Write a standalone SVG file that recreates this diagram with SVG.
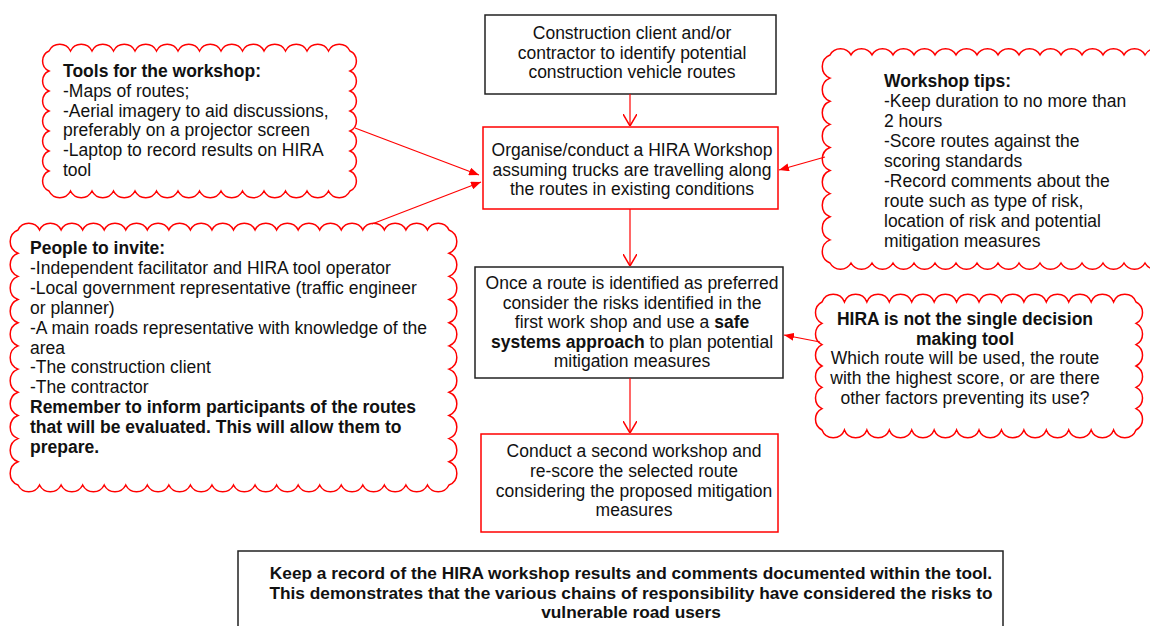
<svg xmlns="http://www.w3.org/2000/svg" width="1150" height="626" viewBox="0 0 1150 626">
<style>
.t{font-family:"Liberation Sans",Arial,Helvetica,sans-serif;font-size:17.5px;fill:#111}
.b{font-weight:bold}
.c{text-anchor:middle}
.kbox{fill:#fff;stroke:#222;stroke-width:1.5}
.rbox{fill:#fff;stroke:#f00;stroke-width:1.5}
.cloud{fill:#fff;stroke:#f00;stroke-width:1.5;stroke-linejoin:miter}
.conn{stroke:#f00;stroke-width:1.2;fill:none}
</style>
<defs>
<marker id="open" viewBox="0 0 12 14" refX="12" refY="7" markerWidth="12" markerHeight="14" markerUnits="userSpaceOnUse" orient="auto">
<path d="M0,0 L12,7 L0,14" fill="none" stroke="#f00" stroke-width="1.5"/>
</marker>
<marker id="fill" viewBox="0 0 10 8" refX="10" refY="4" markerWidth="10" markerHeight="8" markerUnits="userSpaceOnUse" orient="auto">
<path d="M0,0 L10,4 L0,8 z" fill="#f00"/>
</marker>
</defs>
<rect width="1150" height="626" fill="#fff"/>

<g id="tools-cloud">
<path class="cloud" d="M49,51 a12,12 0 0 1 21.5,0 a12,12 0 0 1 21.5,0 a12,12 0 0 1 21.5,0 a12,12 0 0 1 21.5,0 a12,12 0 0 1 21.5,0 a12,12 0 0 1 21.5,0 a12,12 0 0 1 21.5,0 a12,12 0 0 1 21.5,0 a12,12 0 0 1 21.5,0 a12,12 0 0 1 21.5,0 a12,12 0 0 1 21.5,0 a12,12 0 0 1 21.5,0 a12,12 0 0 1 21.5,0 a12,12 0 0 1 21.5,0 a11,11 0 0 1 0,20 a11,11 0 0 1 0,20 a11,11 0 0 1 0,20 a11,11 0 0 1 0,20 a11,11 0 0 1 0,20 a11,11 0 0 1 0,20 a11,11 0 0 1 0,20 a12,12 0 0 1 -21.5,0 a12,12 0 0 1 -21.5,0 a12,12 0 0 1 -21.5,0 a12,12 0 0 1 -21.5,0 a12,12 0 0 1 -21.5,0 a12,12 0 0 1 -21.5,0 a12,12 0 0 1 -21.5,0 a12,12 0 0 1 -21.5,0 a12,12 0 0 1 -21.5,0 a12,12 0 0 1 -21.5,0 a12,12 0 0 1 -21.5,0 a12,12 0 0 1 -21.5,0 a12,12 0 0 1 -21.5,0 a12,12 0 0 1 -21.5,0 a11,11 0 0 1 0,-20 a11,11 0 0 1 0,-20 a11,11 0 0 1 0,-20 a11,11 0 0 1 0,-20 a11,11 0 0 1 0,-20 a11,11 0 0 1 0,-20 a11,11 0 0 1 0,-20 z"/>
<text class="t" x="63" y="77"><tspan class="b">Tools for the workshop:</tspan><tspan x="63" dy="19.8">-Maps of routes;</tspan><tspan x="63" dy="19.8">-Aerial imagery to aid discussions,</tspan><tspan x="63" dy="19.8">preferably on a projector screen</tspan><tspan x="63" dy="19.8">-Laptop to record results on HIRA</tspan><tspan x="63" dy="19.8">tool</tspan></text>
</g>

<g id="people-cloud">
<path class="cloud" d="M18,230 a12,12 0 0 1 21.55,0 a12,12 0 0 1 21.55,0 a12,12 0 0 1 21.55,0 a12,12 0 0 1 21.55,0 a12,12 0 0 1 21.55,0 a12,12 0 0 1 21.55,0 a12,12 0 0 1 21.55,0 a12,12 0 0 1 21.55,0 a12,12 0 0 1 21.55,0 a12,12 0 0 1 21.55,0 a12,12 0 0 1 21.55,0 a12,12 0 0 1 21.55,0 a12,12 0 0 1 21.55,0 a12,12 0 0 1 21.55,0 a12,12 0 0 1 21.55,0 a12,12 0 0 1 21.55,0 a12,12 0 0 1 21.55,0 a12,12 0 0 1 21.55,0 a12,12 0 0 1 21.55,0 a12,12 0 0 1 21.55,0 a12.5,12.5 0 0 1 0,23.18 a12.5,12.5 0 0 1 0,23.18 a12.5,12.5 0 0 1 0,23.18 a12.5,12.5 0 0 1 0,23.18 a12.5,12.5 0 0 1 0,23.18 a12.5,12.5 0 0 1 0,23.18 a12.5,12.5 0 0 1 0,23.18 a12.5,12.5 0 0 1 0,23.18 a12.5,12.5 0 0 1 0,23.18 a12.5,12.5 0 0 1 0,23.18 a12.5,12.5 0 0 1 0,23.18 a12,12 0 0 1 -21.55,0 a12,12 0 0 1 -21.55,0 a12,12 0 0 1 -21.55,0 a12,12 0 0 1 -21.55,0 a12,12 0 0 1 -21.55,0 a12,12 0 0 1 -21.55,0 a12,12 0 0 1 -21.55,0 a12,12 0 0 1 -21.55,0 a12,12 0 0 1 -21.55,0 a12,12 0 0 1 -21.55,0 a12,12 0 0 1 -21.55,0 a12,12 0 0 1 -21.55,0 a12,12 0 0 1 -21.55,0 a12,12 0 0 1 -21.55,0 a12,12 0 0 1 -21.55,0 a12,12 0 0 1 -21.55,0 a12,12 0 0 1 -21.55,0 a12,12 0 0 1 -21.55,0 a12,12 0 0 1 -21.55,0 a12,12 0 0 1 -21.55,0 a12.5,12.5 0 0 1 0,-23.18 a12.5,12.5 0 0 1 0,-23.18 a12.5,12.5 0 0 1 0,-23.18 a12.5,12.5 0 0 1 0,-23.18 a12.5,12.5 0 0 1 0,-23.18 a12.5,12.5 0 0 1 0,-23.18 a12.5,12.5 0 0 1 0,-23.18 a12.5,12.5 0 0 1 0,-23.18 a12.5,12.5 0 0 1 0,-23.18 a12.5,12.5 0 0 1 0,-23.18 a12.5,12.5 0 0 1 0,-23.18 z"/>
<text class="t" x="30" y="254"><tspan class="b">People to invite:</tspan><tspan x="30" dy="19.9">-Independent facilitator and HIRA tool operator</tspan><tspan x="30" dy="19.9">-Local government representative (traffic engineer</tspan><tspan x="30" dy="19.9">or planner)</tspan><tspan x="30" dy="19.9">-A main roads representative with knowledge of the</tspan><tspan x="30" dy="19.9">area</tspan><tspan x="30" dy="19.9">-The construction client</tspan><tspan x="30" dy="19.9">-The contractor</tspan><tspan x="30" dy="19.9" class="b">Remember to inform participants of the routes</tspan><tspan x="30" dy="19.9" class="b">that will be evaluated. This will allow them to</tspan><tspan x="30" dy="19.9" class="b">prepare.</tspan></text>
</g>

<g id="tips-cloud">
<path class="cloud" d="M830,55 a12,12 0 0 1 21,0 a12,12 0 0 1 21,0 a12,12 0 0 1 21,0 a12,12 0 0 1 21,0 a12,12 0 0 1 21,0 a12,12 0 0 1 21,0 a12,12 0 0 1 21,0 a12,12 0 0 1 21,0 a12,12 0 0 1 21,0 a12,12 0 0 1 21,0 a12,12 0 0 1 21,0 a12,12 0 0 1 21,0 a12,12 0 0 1 21,0 a12,12 0 0 1 21,0 a12,12 0 0 1 21,0 a12,12 0 0 1 21,0 a12,12 0 0 1 21,0 L1190,55 L1190,263 L1187,263 a12,12 0 0 1 -21,0 a12,12 0 0 1 -21,0 a12,12 0 0 1 -21,0 a12,12 0 0 1 -21,0 a12,12 0 0 1 -21,0 a12,12 0 0 1 -21,0 a12,12 0 0 1 -21,0 a12,12 0 0 1 -21,0 a12,12 0 0 1 -21,0 a12,12 0 0 1 -21,0 a12,12 0 0 1 -21,0 a12,12 0 0 1 -21,0 a12,12 0 0 1 -21,0 a12,12 0 0 1 -21,0 a12,12 0 0 1 -21,0 a12,12 0 0 1 -21,0 a12,12 0 0 1 -21,0 a12.5,12.5 0 0 1 0,-23.11 a12.5,12.5 0 0 1 0,-23.11 a12.5,12.5 0 0 1 0,-23.11 a12.5,12.5 0 0 1 0,-23.11 a12.5,12.5 0 0 1 0,-23.11 a12.5,12.5 0 0 1 0,-23.11 a12.5,12.5 0 0 1 0,-23.11 a12.5,12.5 0 0 1 0,-23.11 a12.5,12.5 0 0 1 0,-23.11 z"/>
<text class="t" x="884" y="87"><tspan class="b">Workshop tips:</tspan><tspan x="884" dy="20">-Keep duration to no more than</tspan><tspan x="884" dy="20">2 hours</tspan><tspan x="884" dy="20">-Score routes against the</tspan><tspan x="884" dy="20">scoring standards</tspan><tspan x="884" dy="20">-Record comments about the</tspan><tspan x="884" dy="20">route such as type of risk,</tspan><tspan x="884" dy="20">location of risk and potential</tspan><tspan x="884" dy="20">mitigation measures</tspan></text>
</g>

<g id="hira-cloud">
<path class="cloud" d="M822,302 a12,12 0 0 1 22.43,0 a12,12 0 0 1 22.43,0 a12,12 0 0 1 22.43,0 a12,12 0 0 1 22.43,0 a12,12 0 0 1 22.43,0 a12,12 0 0 1 22.43,0 a12,12 0 0 1 22.43,0 a12,12 0 0 1 22.43,0 a12,12 0 0 1 22.43,0 a12,12 0 0 1 22.43,0 a12,12 0 0 1 22.43,0 a12,12 0 0 1 22.43,0 a12,12 0 0 1 22.43,0 a12,12 0 0 1 22.43,0 a12,12 0 0 1 0,21.33 a12,12 0 0 1 0,21.33 a12,12 0 0 1 0,21.33 a12,12 0 0 1 0,21.33 a12,12 0 0 1 0,21.33 a12,12 0 0 1 0,21.33 a12,12 0 0 1 -22.43,0 a12,12 0 0 1 -22.43,0 a12,12 0 0 1 -22.43,0 a12,12 0 0 1 -22.43,0 a12,12 0 0 1 -22.43,0 a12,12 0 0 1 -22.43,0 a12,12 0 0 1 -22.43,0 a12,12 0 0 1 -22.43,0 a12,12 0 0 1 -22.43,0 a12,12 0 0 1 -22.43,0 a12,12 0 0 1 -22.43,0 a12,12 0 0 1 -22.43,0 a12,12 0 0 1 -22.43,0 a12,12 0 0 1 -22.43,0 a12,12 0 0 1 0,-21.33 a12,12 0 0 1 0,-21.33 a12,12 0 0 1 0,-21.33 a12,12 0 0 1 0,-21.33 a12,12 0 0 1 0,-21.33 a12,12 0 0 1 0,-21.33 z"/>
<text class="t c" x="965" y="325"><tspan class="b">HIRA is not the single decision</tspan><tspan x="965" dy="19.7" class="b">making tool</tspan><tspan x="965" dy="19.7">Which route will be used, the route</tspan><tspan x="965" dy="19.7">with the highest score, or are there</tspan><tspan x="965" dy="19.7">other factors preventing its use?</tspan></text>
</g>

<g id="identify-routes">
<rect class="kbox" x="485" y="15" width="291" height="79"/>
<text class="t c" x="632" y="39"><tspan>Construction client and/or</tspan><tspan x="632" dy="19.5">contractor to identify potential</tspan><tspan x="632" dy="19.5">construction vehicle routes</tspan></text>
</g>

<g id="hira-workshop">
<rect class="rbox" x="483" y="127" width="295" height="82"/>
<text class="t c" x="632" y="156"><tspan>Organise/conduct a HIRA Workshop</tspan><tspan x="632" dy="19.5">assuming trucks are travelling along</tspan><tspan x="632" dy="19.5">the routes in existing conditions</tspan></text>
</g>

<g id="safe-systems">
<rect class="kbox" x="475" y="267" width="308" height="111"/>
<text class="t c" x="632" y="289"><tspan>Once a route is identified as preferred</tspan><tspan x="632" dy="19.6">consider the risks identified in the</tspan><tspan x="632" dy="19.6">first work shop and use a <tspan class="b">safe</tspan></tspan><tspan x="632" dy="19.6"><tspan class="b">systems approach</tspan> to plan potential</tspan><tspan x="632" dy="19.6">mitigation measures</tspan></text>
</g>

<g id="second-workshop">
<rect class="rbox" x="481" y="434" width="297" height="98"/>
<text class="t c" x="634" y="457"><tspan>Conduct a second workshop and</tspan><tspan x="634" dy="19.8">re-score the selected route</tspan><tspan x="634" dy="19.8">considering the proposed mitigation</tspan><tspan x="634" dy="19.8">measures</tspan></text>
</g>

<g id="keep-record">
<rect class="kbox" x="238" y="551" width="765" height="90"/>
<text class="t c b" x="631" y="579" style="font-size:17.3px"><tspan>Keep a record of the HIRA workshop results and comments documented within the tool.</tspan><tspan x="631" dy="19.5">This demonstrates that the various chains of responsibility have considered the risks to</tspan><tspan x="631" dy="19.5">vulnerable road users</tspan></text>
</g>

<g id="connectors">
<line class="conn" x1="630" y1="94" x2="630" y2="126" marker-end="url(#open)"/>
<line class="conn" x1="630" y1="209" x2="630" y2="266" marker-end="url(#open)"/>
<line class="conn" x1="630" y1="378" x2="630" y2="433" marker-end="url(#open)"/>
<line class="conn" x1="355" y1="128" x2="479" y2="175" marker-end="url(#fill)"/>
<line class="conn" x1="372" y1="224" x2="481" y2="182" marker-end="url(#fill)"/>
<line class="conn" x1="825" y1="157" x2="779" y2="170" marker-end="url(#fill)"/>
<line class="conn" x1="820" y1="342" x2="784" y2="335" marker-end="url(#fill)"/>
</g>
</svg>
